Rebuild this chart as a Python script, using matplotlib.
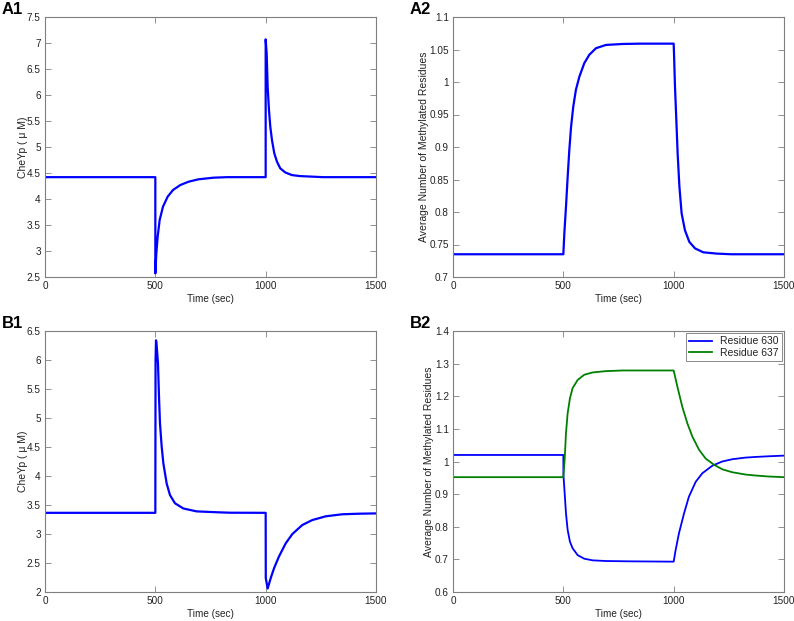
import matplotlib
matplotlib.use("Agg")
import matplotlib.pyplot as plt
from matplotlib.ticker import FuncFormatter

plt.rcParams['font.family'] = ['Liberation Sans', 'DejaVu Sans']

# ---- Data ----
a1_t = [0, 500, 500, 504.5, 510.6, 519.6, 534.7, 555.9, 580, 613.3, 651, 696, 764, 825,
        1000, 1000, 1004.5, 1009, 1015, 1021, 1028.7, 1039, 1051, 1066, 1089, 1119, 1157,
        1210, 1260, 1500]
a1_y = [4.42, 4.42, 2.57, 2.955, 3.276, 3.596, 3.853, 4.045, 4.173, 4.269, 4.333, 4.379,
        4.41, 4.42, 4.42, 7.07, 6.80, 6.16, 5.71, 5.39, 5.13, 4.88, 4.72, 4.59, 4.51, 4.46,
        4.44, 4.43, 4.42, 4.42]

a2_t = [0, 500, 504.5, 512, 519.6, 527, 535, 545, 557, 572.5, 595, 618, 648, 693, 769, 850,
        1000, 1001.5, 1006, 1012, 1018, 1026, 1036, 1051, 1071, 1097, 1134, 1195, 1260, 1500]
a2_y = [0.735, 0.735, 0.767, 0.808, 0.854, 0.895, 0.931, 0.962, 0.988, 1.008, 1.029, 1.042,
        1.052, 1.057, 1.0585, 1.059, 1.059, 1.044, 0.993, 0.942, 0.890, 0.839, 0.798, 0.772,
        0.754, 0.744, 0.738, 0.736, 0.735, 0.735]

b1_t = [0, 500, 501, 503, 505, 512, 516.6, 521, 528.7, 536.3, 551.4, 566.5, 589, 627, 687,
        778, 838, 1000, 1000.5, 1009, 1023, 1038, 1060, 1091, 1121, 1166, 1211, 1272, 1347,
        1423, 1500]
b1_y = [3.365, 3.365, 6.0, 6.34, 6.30, 5.94, 5.37, 4.91, 4.51, 4.22, 3.87, 3.67, 3.53, 3.44,
        3.39, 3.375, 3.367, 3.365, 2.24, 2.06, 2.24, 2.41, 2.61, 2.84, 3.00, 3.155, 3.24,
        3.305, 3.34, 3.35, 3.355]

b2_t630 = [0, 500, 500.5, 506, 512, 519.6, 530, 542, 565, 595, 633, 693, 800, 1000, 1009,
           1024, 1047, 1069, 1100, 1130, 1175, 1220, 1266, 1326, 1372, 1430, 1500]
b2_y630 = [1.020, 1.020, 0.959, 0.903, 0.841, 0.790, 0.754, 0.734, 0.713, 0.702, 0.697,
           0.695, 0.694, 0.693, 0.729, 0.780, 0.841, 0.892, 0.938, 0.964, 0.987, 1.000,
           1.007, 1.012, 1.014, 1.016, 1.018]

b2_t637 = [0, 500, 506, 512, 519.6, 530, 542, 565, 595, 633, 693, 769, 1000, 1016.6, 1039,
           1062, 1085, 1115, 1145, 1183, 1220.5, 1266, 1326, 1372, 1430, 1500]
b2_y637 = [0.952, 0.952, 1.005, 1.087, 1.148, 1.194, 1.225, 1.250, 1.266, 1.273, 1.277,
           1.279, 1.279, 1.230, 1.168, 1.117, 1.076, 1.036, 1.009, 0.990, 0.976, 0.967,
           0.960, 0.957, 0.954, 0.952]

x_ticks = [0, 500, 1000, 1500]
a1_yticks = [2.5, 3, 3.5, 4, 4.5, 5, 5.5, 6, 6.5, 7, 7.5]
a2_yticks = [0.7, 0.75, 0.8, 0.85, 0.9, 0.95, 1.0, 1.05, 1.1]
b1_yticks = [2, 2.5, 3, 3.5, 4, 4.5, 5, 5.5, 6, 6.5]
b2_yticks = [0.6, 0.7, 0.8, 0.9, 1.0, 1.1, 1.2, 1.3, 1.4]
legend_labels = ['Residue 630', 'Residue 637']

W, H = 794, 621
fig = plt.figure(figsize=(W / 100, H / 100), dpi=100)

def rect(l, t, r, b):
    return [l / W, 1 - b / H, (r - l) / W, (b - t) / H]

TXT = '#222222'
SP = '#7f7f7f'
BLUE = '#0000ff'
GREEN = '#008000'

def style(ax, yticks, ylabel, ypad):
    ax.set_xlim(0, 1500)
    ax.set_ylim(yticks[0], yticks[-1])
    ax.set_xticks(x_ticks)
    ax.set_yticks(yticks)
    ax.yaxis.set_major_formatter(FuncFormatter(lambda v, p: '%g' % round(v, 4)))
    ax.tick_params(direction='in', top=True, right=True, length=4, width=0.6,
                   colors=SP, labelcolor=TXT, labelsize=7.2, pad=3)
    for s in ax.spines.values():
        s.set_color(SP)
        s.set_linewidth(0.8)
    ax.set_xlabel('Time (sec)', fontsize=7.2, color=TXT, labelpad=2)
    ax.set_ylabel(ylabel, fontsize=7.5, color=TXT, labelpad=ypad)

axA1 = fig.add_axes(rect(45, 17, 376, 277))
axA1.plot(a1_t, a1_y, color=BLUE, lw=1.6)
style(axA1, a1_yticks, 'CheYp ( \u03bc M)', -1)

axA2 = fig.add_axes(rect(453, 17, 784, 277))
axA2.plot(a2_t, a2_y, color=BLUE, lw=1.6)
style(axA2, a2_yticks, 'Average Number of Methylated Residues', 0.5)

axB1 = fig.add_axes(rect(45, 331, 376, 592))
axB1.plot(b1_t, b1_y, color=BLUE, lw=1.6)
style(axB1, b1_yticks, 'CheYp ( \u03bc M)', -1)

axB2 = fig.add_axes(rect(453, 331, 784, 592))
axB2.plot(b2_t630, b2_y630, color=BLUE, lw=1.3, label=legend_labels[0])
axB2.plot(b2_t637, b2_y637, color=GREEN, lw=1.3, label=legend_labels[1])
style(axB2, b2_yticks, 'Average Number of Methylated Residues', 0.5)
leg = axB2.legend(loc='upper right', fontsize=7.5, frameon=True, fancybox=False,
                  borderpad=0.3, labelspacing=0.15, handlelength=2.2, handletextpad=0.8,
                  borderaxespad=0.2)
leg.get_frame().set_edgecolor('#555555')
leg.get_frame().set_linewidth(0.6)
for t in leg.get_texts():
    t.set_color(TXT)

for lab, x, y in [('A1', 2, 2), ('A2', 410, 2), ('B1', 2, 316), ('B2', 410, 316)]:
    fig.text(x / W, 1 - y / H, lab, fontsize=12, fontweight='bold', va='top', ha='left')

fig.savefig('out.png', dpi=100)
